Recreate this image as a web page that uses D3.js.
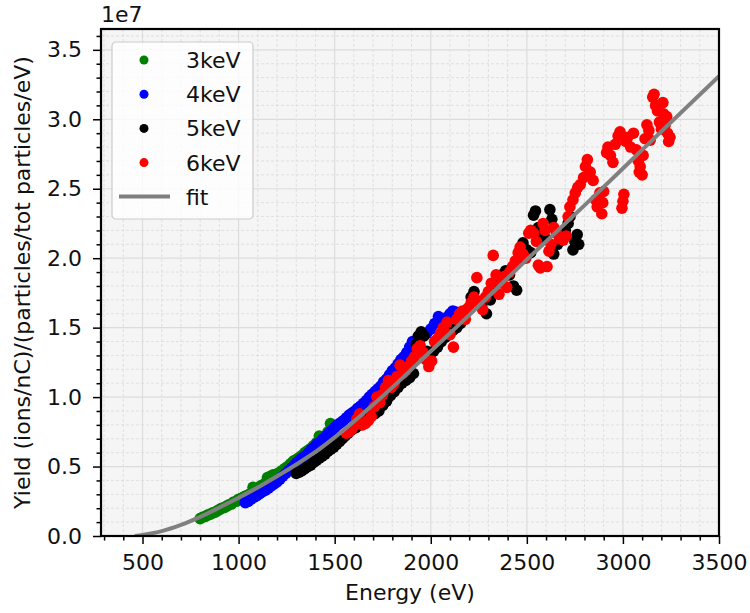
<!DOCTYPE html>
<html>
<head>
<meta charset="utf-8">
<script src="https://cdn.jsdelivr.net/npm/d3@7/dist/d3.min.js"></script>
<style>
	body { margin: 0; background: #fff; }
	text { font-family: "DejaVu Sans", sans-serif; }
</style>
</head>
<body>
<div id="chart"></div>
<script>
//Data, yield in units of 1e7
var series3keV = [[800,0.125],[812,0.135],[825,0.14],[838,0.15],[850,0.155],[862,0.165],[875,0.17],[888,0.18],[900,0.19],[912,0.20],[925,0.205],[938,0.215],[950,0.225],[962,0.23],[975,0.245],[988,0.25],[1000,0.265],[1012,0.27],[1025,0.28],[1040,0.29],[1055,0.30],[1075,0.35],[1090,0.335],[1105,0.35],[1120,0.365],[1140,0.38],[1150,0.42],[1165,0.43],[1180,0.44],[1195,0.445],[1210,0.455],[1225,0.47],[1240,0.485],[1255,0.50],[1270,0.52],[1285,0.54],[1300,0.55],[1315,0.565],[1330,0.58],[1345,0.60],[1360,0.615],[1375,0.63],[1390,0.65],[1405,0.67],[1420,0.72],[1435,0.70],[1450,0.72],[1465,0.75],[1478,0.81],[1490,0.77]];

var series4keV = [[1035,0.24],[1050,0.25],[1065,0.265],[1080,0.28],[1095,0.29],[1110,0.305],[1125,0.32],[1140,0.33],[1155,0.345],[1170,0.36],[1185,0.375],[1200,0.39],[1215,0.41],[1230,0.43],[1245,0.45],[1260,0.47],[1275,0.49],[1290,0.51],[1305,0.53],[1320,0.55],[1335,0.565],[1350,0.58],[1365,0.60],[1380,0.625],[1395,0.64],[1410,0.665],[1425,0.68],[1440,0.70],[1455,0.72],[1470,0.74],[1485,0.76],[1500,0.78],[1515,0.80],[1530,0.815],[1545,0.83],[1560,0.85],[1575,0.87],[1590,0.885],[1605,0.90],[1620,0.92],[1635,0.935],[1650,0.955],[1665,0.975],[1680,1.00],[1695,1.02],[1710,1.04],[1725,1.06],[1740,1.08],[1755,1.11],[1770,1.13],[1785,1.16],[1800,1.19],[1815,1.21],[1830,1.24],[1845,1.27],[1860,1.29],[1875,1.32],[1890,1.36],[1905,1.40],[1920,1.37],[1940,1.41],[1960,1.44],[1980,1.46],[2000,1.49],[2020,1.53],[2040,1.58],[2060,1.56],[2080,1.57],[2100,1.60],[2115,1.62],[2135,1.61]];

var series5keV = [[1300,0.45],[1315,0.46],[1330,0.47],[1345,0.485],[1360,0.50],[1375,0.51],[1390,0.53],[1405,0.545],[1420,0.56],[1435,0.575],[1450,0.59],[1465,0.61],[1480,0.625],[1495,0.64],[1510,0.66],[1525,0.68],[1540,0.70],[1555,0.72],[1570,0.74],[1590,0.765],[1610,0.78],[1630,0.80],[1650,0.82],[1670,0.85],[1690,0.87],[1710,0.88],[1730,0.90],[1750,0.94],[1770,0.97],[1790,1.01],[1810,1.04],[1830,1.07],[1850,1.10],[1870,1.12],[1890,1.14],[1910,1.17],[1925,1.38],[1935,1.44],[1950,1.47],[1965,1.44],[1980,1.33],[1995,1.29],[2015,1.33],[2035,1.36],[2055,1.40],[2075,1.43],[2095,1.45],[2115,1.48],[2135,1.50],[2155,1.53],[2175,1.58],[2195,1.64],[2210,1.72],[2225,1.76],[2245,1.69],[2265,1.66],[2290,1.60],[2310,1.70],[2330,1.76],[2350,1.84],[2370,1.88],[2390,1.91],[2410,1.88],[2430,1.80],[2447,1.77],[2465,2.00],[2480,2.11],[2500,2.06],[2520,2.04],[2535,2.31],[2545,2.34],[2560,2.22],[2580,2.16],[2600,2.14],[2620,2.35],[2630,2.28],[2640,2.03],[2660,2.10],[2680,2.16],[2700,2.20],[2715,2.25],[2725,2.30],[2740,2.06],[2750,2.12],[2762,2.17],[2770,2.10]];

var series6keV = [[1560,0.74],[1575,0.75],[1590,0.77],[1605,0.80],[1615,0.84],[1630,0.88],[1645,0.80],[1660,0.81],[1675,0.83],[1690,0.86],[1705,0.93],[1720,1.00],[1735,0.96],[1750,1.02],[1765,1.07],[1780,1.12],[1795,1.07],[1810,1.10],[1825,1.15],[1840,1.23],[1855,1.17],[1870,1.19],[1885,1.22],[1900,1.26],[1915,1.29],[1930,1.35],[1945,1.37],[1960,1.32],[1975,1.27],[1990,1.22],[2005,1.26],[2020,1.40],[2035,1.42],[2050,1.46],[2065,1.50],[2085,1.54],[2100,1.45],[2118,1.36],[2135,1.56],[2150,1.60],[2165,1.62],[2180,1.56],[2195,1.64],[2210,1.68],[2225,1.72],[2240,1.86],[2255,1.68],[2270,1.63],[2285,1.72],[2300,1.76],[2315,1.82],[2325,2.02],[2340,1.88],[2355,1.74],[2370,1.82],[2385,1.87],[2396,1.79],[2410,1.90],[2425,1.94],[2440,1.98],[2455,2.04],[2465,2.08],[2480,2.03],[2495,2.00],[2510,2.18],[2520,2.20],[2535,2.18],[2550,2.12],[2560,1.95],[2570,1.93],[2585,2.25],[2595,2.20],[2605,1.94],[2615,2.05],[2625,2.10],[2640,2.22],[2655,2.18],[2670,2.14],[2689,2.13],[2705,2.16],[2715,2.30],[2724,2.37],[2740,2.42],[2752,2.47],[2765,2.51],[2778,2.53],[2795,2.58],[2805,2.66],[2815,2.71],[2830,2.62],[2845,2.56],[2858,2.42],[2866,2.37],[2880,2.47],[2890,2.32],[2895,2.40],[2900,2.48],[2915,2.76],[2922,2.80],[2935,2.74],[2948,2.69],[2960,2.82],[2975,2.88],[2985,2.91],[2995,2.36],[3000,2.41],[3005,2.46],[3015,2.84],[3025,2.87],[3040,2.80],[3055,2.90],[3070,2.78],[3080,2.70],[3085,2.62],[3090,2.66],[3100,2.60],[3105,2.74],[3115,2.86],[3125,2.96],[3135,2.92],[3142,2.85],[3155,3.16],[3162,3.18],[3170,3.10],[3180,3.06],[3190,2.98],[3200,2.93],[3208,3.12],[3212,3.04],[3220,2.96],[3228,3.02],[3232,2.90],[3238,2.84],[3245,2.87]];

//Fit curve, values
var fitEnergy = [460, 500, 600, 700, 800, 900, 1000, 1100, 1200, 1300, 1400, 1500, 1600, 1700, 1800, 2000, 2200, 2500, 2800, 3100, 3500];
var fitYield = [0, 0.008, 0.035, 0.08, 0.138, 0.205, 0.275, 0.35, 0.43, 0.515, 0.605, 0.71, 0.825, 0.945, 1.07, 1.33, 1.59, 1.99, 2.38, 2.78, 3.31];

//Ticks
var xMajorTicks = [500, 1000, 1500, 2000, 2500, 3000, 3500];
var yMajorTicks = [0, 0.5, 1.0, 1.5, 2.0, 2.5, 3.0, 3.5];

var legendData = [
	{ Text: "3keV", Color: "green", Data: series3keV },
	{ Text: "4keV", Color: "blue", Data: series4keV },
	{ Text: "5keV", Color: "black", Data: series5keV },
	{ Text: "6keV", Color: "red", Data: series6keV }
];

//SVG setup
var margin = { top: 29, right: 31, bottom: 77, left: 101 };
var width = 750 - margin.left - margin.right;
var height = 613 - margin.top - margin.bottom;

var root = d3.select('#chart')
	.append('svg')
	.attr('width', 750)
	.attr('height', 613);

var svg = root.append('g')
	.attr('transform', 'translate(' + margin.left + ',' + margin.top + ')');

//Scales
var x = d3.scaleLinear().domain([284, 3500]).range([0, width]);
var y = d3.scaleLinear().domain([0, 3.65]).range([height, 0]);

var xMinorTicks = d3.range(300, 3501, 100).filter(function(d) { return d % 500 !== 0; });
var yMinorTicks = d3.range(1, 37).map(function(d) { return d / 10; }).filter(function(d) { return Math.round(d * 10) % 5 !== 0; });

//Background
svg.append('rect')
	.attr('width', width)
	.attr('height', height)
	.attr('fill', '#f5f5f5');

//Grid
var grid = svg.append('g').attr('class', 'grid');
grid.selectAll('.vminor').data(xMinorTicks).enter().append('line')
	.attr('x1', function(d) { return x(d); }).attr('x2', function(d) { return x(d); })
	.attr('y1', 0).attr('y2', height)
	.attr('stroke', '#dadada').attr('stroke-width', 0.8).attr('stroke-dasharray', '3,2');
grid.selectAll('.hminor').data(yMinorTicks).enter().append('line')
	.attr('y1', function(d) { return y(d); }).attr('y2', function(d) { return y(d); })
	.attr('x1', 0).attr('x2', width)
	.attr('stroke', '#dadada').attr('stroke-width', 0.8).attr('stroke-dasharray', '3,2');
grid.selectAll('.vmajor').data(xMajorTicks).enter().append('line')
	.attr('x1', function(d) { return x(d); }).attr('x2', function(d) { return x(d); })
	.attr('y1', 0).attr('y2', height)
	.attr('stroke', '#dcdcdc').attr('stroke-width', 1.2);
grid.selectAll('.hmajor').data(yMajorTicks).enter().append('line')
	.attr('y1', function(d) { return y(d); }).attr('y2', function(d) { return y(d); })
	.attr('x1', 0).attr('x2', width)
	.attr('stroke', '#dcdcdc').attr('stroke-width', 1.2);

//Points
var plot = svg.append('g').attr('clip-path', 'url(#clip)');
svg.append('clipPath').attr('id', 'clip').append('rect').attr('width', width).attr('height', height);

legendData.forEach(function(s) {
	plot.selectAll(null)
		.data(s.Data)
		.enter()
		.append('circle')
		.attr('cx', function(d) { return x(d[0]); })
		.attr('cy', function(d) { return y(d[1]); })
		.attr('r', 5.8)
		.attr('fill', s.Color);
});

//Fit line
var fitData = fitEnergy.map(function(e, i) { return [e, fitYield[i]]; });
var line = d3.line()
	.x(function(d) { return x(d[0]); })
	.y(function(d) { return y(d[1]); })
	.curve(d3.curveMonotoneX);
plot.append('path')
	.datum(fitData)
	.attr('d', line)
	.attr('fill', 'none')
	.attr('stroke', '#808080')
	.attr('stroke-width', 4);

//Axes
svg.append('g')
	.attr('transform', 'translate(0,' + height + ')')
	.call(d3.axisBottom(x).tickValues(xMajorTicks).tickSize(8).tickPadding(10).tickFormat(d3.format('d')));
svg.append('g')
	.attr('transform', 'translate(0,' + height + ')')
	.call(d3.axisBottom(x).tickValues(xMinorTicks).tickSize(4.5).tickFormat(''));
svg.append('g')
	.call(d3.axisLeft(y).tickValues(yMajorTicks).tickSize(8).tickPadding(11).tickFormat(d3.format('.1f')));
svg.append('g')
	.call(d3.axisLeft(y).tickValues(yMinorTicks).tickSize(4.5).tickFormat(''));

svg.selectAll('.domain').remove();
svg.selectAll('.tick line').attr('stroke', '#000').attr('stroke-width', 1.5);
svg.selectAll('.tick text').attr('font-size', 22).attr('fill', '#111').attr('font-family', '"DejaVu Sans", sans-serif');

//Frame
svg.append('rect')
	.attr('width', width)
	.attr('height', height)
	.attr('fill', 'none')
	.attr('stroke', '#000')
	.attr('stroke-width', 2.2);

//Labels
svg.append('text')
	.attr('x', width / 2)
	.attr('y', height + 64)
	.attr('text-anchor', 'middle')
	.attr('font-size', 22)
	.attr('fill', '#111')
	.text('Energy (eV)');

svg.append('text')
	.attr('transform', 'rotate(-90)')
	.attr('x', -height / 2)
	.attr('y', -71)
	.attr('text-anchor', 'middle')
	.attr('font-size', 22)
	.attr('fill', '#111')
	.text('Yield (ions/nC)/(particles/tot particles/eV)');

svg.append('text')
	.attr('x', 0)
	.attr('y', -7)
	.attr('font-size', 22)
	.attr('fill', '#111')
	.text('1e7');

//Legend
var legend = svg.append('g').attr('transform', 'translate(11,13)');
legend.append('rect')
	.attr('width', 141)
	.attr('height', 177)
	.attr('rx', 4)
	.attr('fill', '#fff')
	.attr('fill-opacity', 0.8)
	.attr('stroke', '#cccccc')
	.attr('stroke-width', 1.2);

var items = legend.selectAll('.item')
	.data(legendData)
	.enter()
	.append('g')
	.attr('transform', function(d, i) { return 'translate(0,' + (18 + i * 34.2) + ')'; });
items.append('circle')
	.attr('cx', 32)
	.attr('r', 4.5)
	.attr('fill', function(d) { return d.Color; });
items.append('text')
	.attr('x', 74)
	.attr('y', 8)
	.attr('font-size', 22)
	.attr('fill', '#111')
	.text(function(d) { return d.Text; });

legend.append('line')
	.attr('x1', 7).attr('x2', 58)
	.attr('y1', 154.5).attr('y2', 154.5)
	.attr('stroke', '#808080')
	.attr('stroke-width', 4);
legend.append('text')
	.attr('x', 74)
	.attr('y', 162.5)
	.attr('font-size', 22)
	.attr('fill', '#111')
	.text('fit');
</script>
</body>
</html>
